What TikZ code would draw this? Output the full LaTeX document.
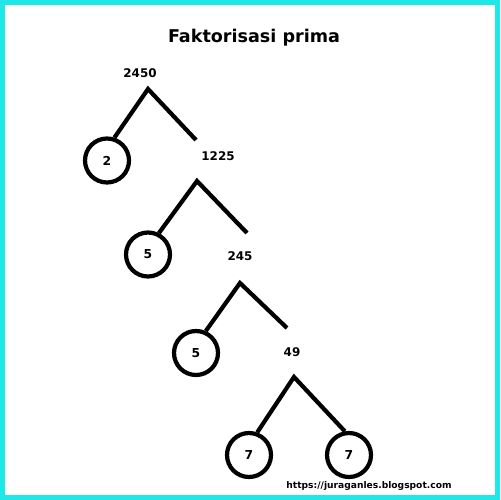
\documentclass[tikz,border=0pt]{standalone}
\usepackage{fontspec}
\setmainfont{DejaVu Sans}
\usepackage{xcolor}
\definecolor{frame}{RGB}{32,232,232}

\begin{document}
\begin{tikzpicture}[x=0.02cm, y=-0.02cm,
    num/.style={font=\bfseries\fontsize{6.8}{8}\selectfont, inner sep=1pt},
    prime/.style={circle, draw, line width=2.4pt, minimum size=0.88cm, inner sep=0pt,
                  font=\bfseries\fontsize{7}{8}\selectfont},
    branch/.style={line width=2.4pt}]
    \fill[frame] (0,0) rectangle (500,500);
    \fill[white] (5,5) rectangle (495,495);
    \useasboundingbox (0,0) rectangle (500,500);
    \node (title) at (254,38) {\bfseries\fontsize{10}{12}\selectfont Faktorisasi prima};
    \node[num] (n2450) at (140,73) {2450};
    \node[num] (n1225) at (218,156) {1225};
    \node[num] (n245) at (240,256) {245};
    \node[num] (n49) at (292,352) {49};
    \node[prime] (c2) at (107,160.5) {2};
    \node[prime] (c5a) at (148,254.5) {5};
    \node[prime] (c5b) at (196,353) {5};
    \node[prime] (c7a) at (249,455) {7};
    \node[prime] (c7b) at (349,455) {7};
    \coordinate (t1) at (148,89);
    \coordinate (t2) at (197,181);
    \coordinate (t3) at (240,283);
    \coordinate (t4) at (294,377);
    \coordinate (e1) at (196,140);
    \coordinate (e2) at (247,233);
    \coordinate (e3) at (287,328);
    \draw[branch] (c2.72) -- (t1) -- (e1);
    \draw[branch] (c5a.63) -- (t2) -- (e2);
    \draw[branch] (c5b.66) -- (t3) -- (e3);
    \draw[branch] (c7a.70) -- (t4) -- (c7b.100);
    \node (url) at (369,486) {\bfseries\fontsize{5.2}{6}\selectfont https://juraganles.blogspot.com};
\end{tikzpicture}
\end{document}
